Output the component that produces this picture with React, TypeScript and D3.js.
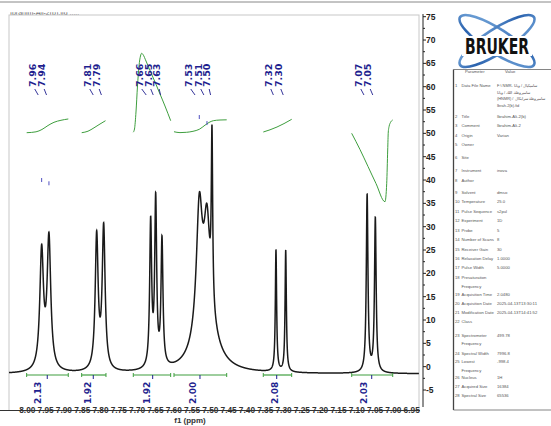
import React, { useEffect } from "react";
import * as d3 from "d3";

// ---------- spectrum peaks (ppm, height in axis units, half-width in ppm) ----------
const peakPpm = [7.9608, 7.9409, 7.8105, 7.7914, 7.663, 7.6493, 7.6321, 7.512, 7.5302, 7.5092, 7.4955, 7.3207, 7.2941, 7.0717, 7.0493];
const peakHeight = [25.3, 28.1, 28.6, 30.4, 31, 35.5, 27, 12, 26.5, 19, 36, 26, 26, 38, 33];
const peakWidth = [0.006, 0.006, 0.0048, 0.0048, 0.0032, 0.0032, 0.0032, 0.03, 0.0096, 0.0096, 0.0022, 0.0021, 0.0021, 0.0027, 0.0027];
const baselineValue = -1.55;

// ---------- peak labels ----------
const shiftLabels = ["7.96", "7.94", "7.81", "7.79", "7.66", "7.65", "7.63", "7.53", "7.51", "7.50", "7.32", "7.30", "7.07", "7.05"];
const shiftLabelPpm = [7.9865, 7.9608, 7.8362, 7.8105, 7.6942, 7.6696, 7.6466, 7.5603, 7.533, 7.51, 7.3417, 7.3144, 7.0958, 7.0701];
const shiftTargetPpm = [7.9608, 7.9409, 7.8105, 7.7914, 7.663, 7.6493, 7.6321, 7.5302, 7.5092, 7.4955, 7.3207, 7.2941, 7.0717, 7.0493];

// ---------- integrals ----------
const integralValues = ["2.13", "1.92", "1.92", "2.00", "2.08", "2.03"];
const integralFrom = [8.0018, 7.8515, 7.7105, 7.5993, 7.3554, 7.1138];
const integralTo = [7.8881, 7.7851, 7.6084, 7.4553, 7.2778, 7.0018];
const integralMid = [7.9455, 7.8198, 7.6575, 7.5283, 7.3187, 7.0592];
const integralLabelPpm = [7.9709, 7.8343, 7.6731, 7.5474, 7.3234, 7.0802];

const trace1Ppm = [8.0017, 7.9762, 7.9599, 7.9435, 7.9271, 7.908, 7.888];
const trace1Val = [50.14, 50.33, 50.83, 51.68, 52.37, 52.8, 53.08];
const trace2Ppm = [7.8514, 7.8342, 7.8178, 7.8014, 7.7864];
const trace2Val = [50.14, 50.46, 51.19, 52.0, 52.71];
const trace3Ppm = [7.7105, 7.7072, 7.7031, 7.699, 7.6949, 7.6908, 7.6875, 7.684, 7.6758, 7.6648, 7.6512, 7.6375, 7.6239, 7.6083];
const trace3Val = [50.25, 50.93, 54.58, 60.15, 64.43, 66.58, 67.16, 66.9, 65.51, 63.47, 61.01, 58.43, 55.86, 52.71];
const trace4Ppm = [7.5993, 7.5829, 7.5646, 7.5474, 7.5302, 7.5146, 7.5037, 7.4919, 7.4736, 7.4553];
const trace4Val = [50.35, 50.16, 50.23, 50.44, 50.87, 51.75, 52.33, 52.71, 52.86, 52.9];
const trace5Ppm = [7.3553, 7.337, 7.3179, 7.2988, 7.2777];
const trace5Val = [50.29, 50.76, 51.36, 52.09, 53.01];
const trace6Ppm = [7.1139, 7.0912, 7.0693, 7.0475, 7.0229, 7.0182, 7.0155, 7.0139, 7.0114, 7.0079, 7.0019];
const trace6Val = [50.01, 46.54, 42.9, 39.25, 35.35, 39.29, 46.43, 50.29, 51.58, 52.33, 52.86];

// peak-pick markers
const markerPpm = [7.9608, 7.9409, 7.5302, 7.5092];
const markerVal = [40, 39.3, 53.5, 52.2];

// ---------- axes ----------
const xTickValues = [8.0, 7.95, 7.9, 7.85, 7.8, 7.75, 7.7, 7.65, 7.6, 7.55, 7.5, 7.45, 7.4, 7.35, 7.3, 7.25, 7.2, 7.15, 7.1, 7.05, 7.0, 6.95];
const yTickValues = [-5, 0, 5, 10, 15, 20, 25, 30, 35, 40, 45, 50, 55, 60, 65, 70, 75];

// ---------- parameter table ----------
const paramNums = ["1", "2", "3", "4", "5", "6", "7", "8", "9", "10", "11", "12", "13", "14", "15", "16", "17", "18", "19", "20", "21", "22", "23", "24", "25", "26", "27", "28"];
const paramNames = ["Data File Name", "Title", "Comment", "Origin", "Owner", "Site", "Instrument", "Author", "Solvent", "Temperature", "Pulse Sequence", "Experiment", "Probe", "Number of Scans", "Receiver Gain", "Relaxation Delay", "Pulse Width", "Presaturation|Frequency", "Acquisition Time", "Acquisition Date", "Modification Date", "Class", "Spectrometer|Frequency", "Spectral Width", "Lowest|Frequency", "Nucleus", "Acquired Size", "Spectral Size"];
const paramValues = ["F:\\ NMR- ساميكيال / وبانا|ساميروطة. اللك / وبانا|(HNMR) / ساميروطة سرابكال|Ibrah-2(b).fid", "Ibrahim-Ali-2(b)", "Ibrahim-Ali-2", "Varian", "", "", "inova", "", "dmso", "25.0", "s2pul", "1D", "5", "8", "30", "1.0000", "5.0000", "", "2.0480", "2025-04-13T13:30:11", "2025-04-13T14:41:52", "", "499.78", "7996.8", "-998.4", "1H", "16384", "65536"];

const W = 551;
const H = 426;

export default function App() {
  useEffect(() => {
    document.body.style.margin = "0";
  }, []);

  const x = d3.scaleLinear().domain([8.05, 6.93]).range([9, 419]);
  const y = d3.scaleLinear().domain([-5, 75]).range([390, 16.7]);

  // spectrum
  const pts: [number, number][] = [];
  for (let p = 8.05; p >= 6.93; p -= 0.0002) {
    let v = baselineValue;
    for (let i = 0; i < peakPpm.length; i++) {
      const d = (p - peakPpm[i]) / peakWidth[i];
      v += peakHeight[i] / (1 + d * d);
    }
    pts.push([p, v]);
  }
  const line = d3.line<[number, number]>().x((d) => x(d[0])).y((d) => y(d[1]));
  const specPath = line(pts) || "";

  const traceLine = d3
    .line<[number, number]>()
    .x((d) => x(d[0]))
    .y((d) => y(d[1]))
    .curve(d3.curveMonotoneX);
  const traces = [
    [trace1Ppm, trace1Val],
    [trace2Ppm, trace2Val],
    [trace3Ppm, trace3Val],
    [trace4Ppm, trace4Val],
    [trace5Ppm, trace5Val],
    [trace6Ppm, trace6Val],
  ].map(([ps, vs]) => traceLine(ps.map((p, i) => [p, vs[i]] as [number, number])) || "");

  const navy = "#1f1f8f";
  const green = "#3e9e3e";
  const bracketY = 375;
  const axisY = 410.5;

  // table layout
  const rowY = [87, 117.5, 127, 136.7, 145.7, 159.3, 172.3, 181.7, 193.7, 202.7, 212.7, 222, 231.7, 241, 250.7, 259.7, 269, 279, 296, 305, 314.3, 323.3, 336.7, 354.7, 363.3, 379, 388.3, 397.3];
  const tFont = "'Liberation Sans', Arial, sans-serif";

  return (
    <svg width={W} height={H} style={{ position: "fixed", left: 0, top: 0, background: "#fff" }}>
      <defs>
        <clipPath id="plotClip">
          <rect x={9} y={15} width={410} height={395} />
        </clipPath>
        <clipPath id="titleClip">
          <rect x={9} y={12.3} width={70} height={2.6} />
        </clipPath>
        <linearGradient id="orbitGrad" x1="0" y1="0" x2="1" y2="1">
          <stop offset="0" stopColor="#7fb0e0" />
          <stop offset="0.5" stopColor="#2a62ae" />
          <stop offset="1" stopColor="#6fa2d8" />
        </linearGradient>
      </defs>

      {/* top rule */}
      <line x1={0} x2={W} y1={2} y2={2} stroke="#888" strokeWidth={1} />
      {/* clipped title */}
      <g clipPath="url(#titleClip)">
        <text x={10} y={15} fontSize={7} fontFamily={tFont} fill="#555">
          Ibrahim-Ali-2(b).fid ...............
        </text>
      </g>

      {/* plot frame */}
      <rect x={9} y={15} width={410} height={axisY - 15} fill="none" stroke="#c8c8c8" strokeWidth={1} />

      <g clipPath="url(#plotClip)">
        {traces.map((d, i) => (
          <path key={i} d={d} fill="none" stroke={green} strokeWidth={1} />
        ))}
        <path d={specPath} fill="none" stroke="#1a1a1a" strokeWidth={1.5} />
        {markerPpm.map((p, i) => (
          <line key={i} x1={x(p)} x2={x(p)} y1={y(markerVal[i]) - 2} y2={y(markerVal[i]) + 2} stroke="#5050c0" strokeWidth={1} />
        ))}
      </g>

      {/* integral brackets */}
      {integralValues.map((v, i) => {
        const x1 = x(integralFrom[i]);
        const x2 = x(integralTo[i]);
        const xm = x(integralMid[i]);
        const xl = x(integralLabelPpm[i]);
        return (
          <g key={i}>
            <line x1={x1} x2={x2} y1={bracketY} y2={bracketY} stroke={green} strokeWidth={1.2} />
            <line x1={x1} x2={x1} y1={bracketY - 2} y2={bracketY + 2} stroke={green} strokeWidth={1} />
            <line x1={x2} x2={x2} y1={bracketY - 2} y2={bracketY + 2} stroke={green} strokeWidth={1} />
            <line x1={xm} x2={xm} y1={bracketY} y2={bracketY + 4} stroke={navy} strokeWidth={1} />
            <text
              transform={`translate(${xl + 3.3},${404}) rotate(-90)`}
              fontSize={9}
              fontWeight="bold"
              fontFamily="'DejaVu Sans', sans-serif"
              fill={navy}
            >
              {v}
            </text>
          </g>
        );
      })}

      {/* peak labels */}
      {shiftLabels.map((s, i) => {
        const xl = x(shiftLabelPpm[i]);
        const xt = x(shiftTargetPpm[i]);
        return (
          <g key={i}>
            <text
              transform={`translate(${xl + 3.3},${87}) rotate(-90)`}
              fontSize={9.5}
              fontWeight="bold"
              fontFamily="'DejaVu Sans', sans-serif"
              fill={navy}
            >
              {s}
            </text>
            <line x1={xl + 2.5} x2={(xl + 2.5 + xt) / 2} y1={89} y2={95} stroke={navy} strokeWidth={0.9} />
          </g>
        );
      })}

      {/* x axis */}
      <line x1={0} x2={420} y1={axisY} y2={axisY} stroke="#333" strokeWidth={1} />
      {xTickValues.map((t) => (
        <text
          key={t}
          x={x(t)}
          y={axisY}
          dy="0.35em"
          textAnchor="middle"
          fontSize={8.3}
          fontWeight="bold"
          fontFamily="'Liberation Sans', Arial, sans-serif"
          fill="#333"
        >
          {t.toFixed(2)}
        </text>
      ))}
      <text x={190} y={423} textAnchor="middle" fontSize={8} fontWeight="bold" fontFamily="'Liberation Sans', Arial, sans-serif" fill="#333">
        f1 (ppm)
      </text>

      {/* right y axis */}
      <line x1={423} x2={423} y1={14} y2={407} stroke="#222" strokeWidth={1} />
      {yTickValues.map((t) => (
        <g key={t}>
          <line x1={423} x2={426} y1={y(t)} y2={y(t)} stroke="#222" strokeWidth={1} />
          <text x={426} y={y(t)} dy="0.35em" fontSize={8.5} fontWeight="bold" fontFamily="'Liberation Sans', Arial, sans-serif" fill="#222">
            {t}
          </text>
        </g>
      ))}
      {yTickValues.slice(0, -1).map((t) => (
        <line key={"m" + t} x1={423} x2={425} y1={y(t + 2.5)} y2={y(t + 2.5)} stroke="#222" strokeWidth={1} />
      ))}

      {/* Bruker logo */}
      <g>
        <ellipse cx={497} cy={41} rx={44} ry={12} fill="none" stroke="url(#orbitGrad)" strokeWidth={2.6} transform="rotate(33 497 41)" />
        <ellipse cx={497} cy={41} rx={44} ry={12} fill="none" stroke="url(#orbitGrad)" strokeWidth={2.6} transform="rotate(-33 497 41)" />
        <rect x={462} y={36} width={70} height={20} fill="#fff" />
        <text x={497} y={54} textAnchor="middle" fontSize={21} fontWeight="bold" fontFamily="'DejaVu Sans Condensed', 'DejaVu Sans', sans-serif" textLength={64} lengthAdjust="spacingAndGlyphs" fill="#111">
          BRUKER
        </text>
      </g>

      {/* parameter table */}
      <g fontFamily={tFont} fontSize={4.2} fill="#555">
        <line x1={453.5} x2={W} y1={69.5} y2={69.5} stroke="#666" strokeWidth={0.8} />
        <line x1={453.5} x2={453.5} y1={69.5} y2={410} stroke="#444" strokeWidth={1.3} />
        <line x1={453.5} x2={W} y1={410} y2={410} stroke="#666" strokeWidth={0.8} />
        <text x={465} y={73}>Parameter</text>
        <text x={505} y={73}>Value</text>
        {paramNums.map((n, i) => {
          const yy = rowY[i];
          const names = paramNames[i].split("|");
          const vals = paramValues[i] ? paramValues[i].split("|") : [];
          return (
            <g key={n}>
              <text x={455} y={yy}>{n}</text>
              {names.map((nm, j) => (
                <text key={j} x={461.5} y={yy + j * 8.5}>
                  {nm}
                </text>
              ))}
              {vals.map((vv, j) => (
                <text key={"v" + j} x={497} y={yy + j * 6.5} fontSize={i === 0 ? 3.9 : 4.2}>
                  {vv}
                </text>
              ))}
            </g>
          );
        })}
      </g>
    </svg>
  );
}
